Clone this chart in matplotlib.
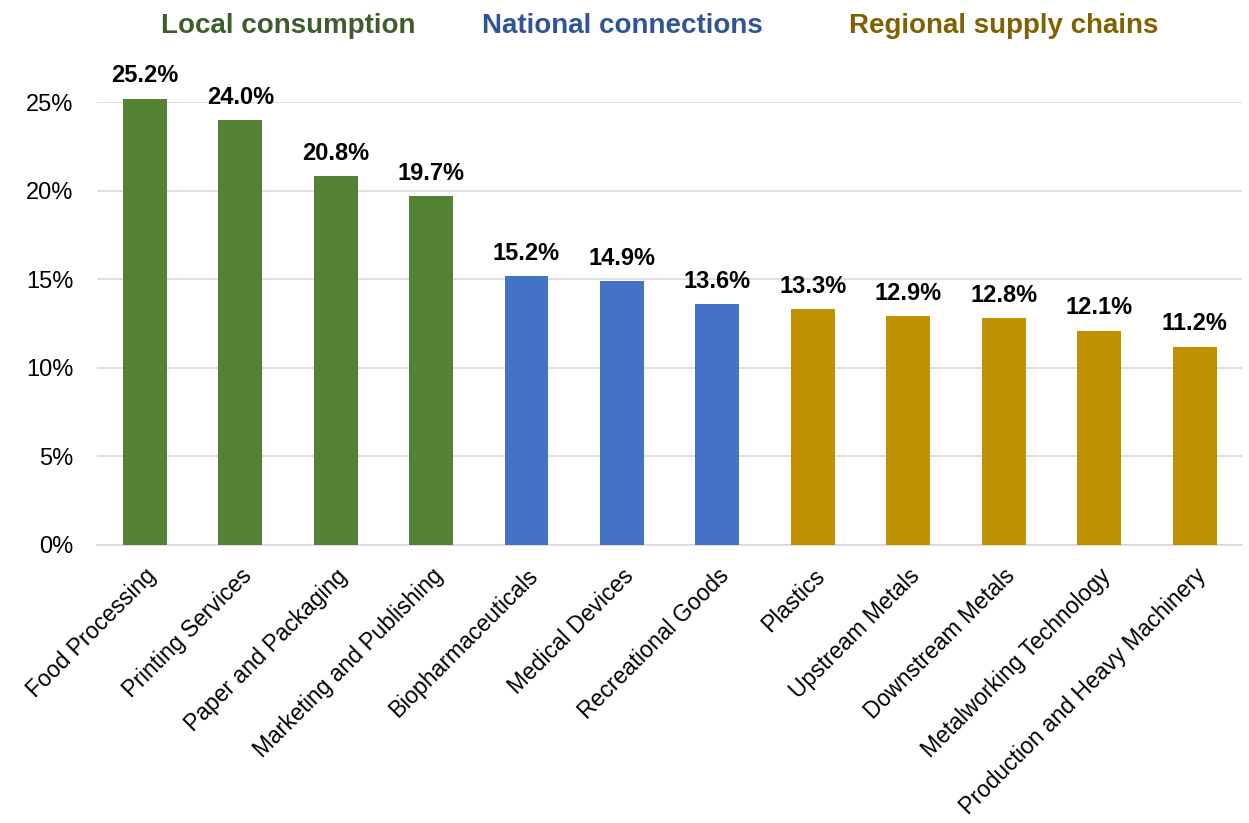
import matplotlib
matplotlib.use("Agg")
import matplotlib.pyplot as plt
from matplotlib.ticker import PercentFormatter

plt.rcParams['font.family'] = ['Liberation Sans', 'DejaVu Sans']

categories = ["Food Processing", "Printing Services", "Paper and Packaging",
              "Marketing and Publishing", "Biopharmaceuticals", "Medical Devices",
              "Recreational Goods", "Plastics", "Upstream Metals", "Downstream Metals",
              "Metalworking Technology", "Production and Heavy Machinery"]
values = [25.2, 24.0, 20.8, 19.7, 15.2, 14.9, 13.6, 13.3, 12.9, 12.8, 12.1, 11.2]
groups = ["Local", "Local", "Local", "Local", "National", "National", "National",
          "Regional", "Regional", "Regional", "Regional", "Regional"]
group_names = {"Local": "Local consumption", "National": "National connections",
               "Regional": "Regional supply chains"}
bar_colors = {"Local": "#548235", "National": "#4472C4", "Regional": "#BF9000"}
title_colors = {"Local": "#3A5F2A", "National": "#2F5597", "Regional": "#806000"}

fig = plt.figure(figsize=(12.49, 8.23), dpi=100)
ax = fig.add_axes([0.0777, 0.3378, 0.917, 0.5382])

x = list(range(len(categories)))
ax.bar(x, values, width=0.46, color=[bar_colors[g] for g in groups],
       zorder=3, clip_on=False)
for xi, v in zip(x, values):
    ax.annotate(f"{v:.1f}%", (xi, v), xytext=(0, 8), textcoords="offset points",
                ha="center", va="bottom", fontsize=17, fontweight="bold",
                annotation_clip=False)

ax.set_xlim(-0.5, 11.5)
ax.set_ylim(0, 25)
ax.set_yticks([0, 5, 10, 15, 20, 25])
ax.yaxis.set_major_formatter(PercentFormatter(decimals=0))
ax.grid(axis="y", color="#D9D9D9", linewidth=1.2, zorder=0)
for s in ["top", "right", "left"]:
    ax.spines[s].set_visible(False)
ax.spines["bottom"].set_color("#D9D9D9")
ax.spines["bottom"].set_linewidth(1.2)
ax.tick_params(axis="y", length=0, labelsize=17, pad=17)
ax.set_xticks(x)
ax.set_xticklabels(categories, rotation=45, ha="right", rotation_mode="anchor")
ax.tick_params(axis="x", length=0, labelsize=16.5, pad=14)

trans = matplotlib.transforms.blended_transform_factory(ax.transData, fig.transFigure)
for g in ["Local", "National", "Regional"]:
    idx = [i for i, gg in enumerate(groups) if gg == g]
    center = (idx[0] + idx[-1]) / 2
    ax.text(center, 0.969, group_names[g], transform=trans,
            ha="center", va="center", fontsize=20, fontweight="bold",
            color=title_colors[g])

fig.savefig("out.png", dpi=100)
